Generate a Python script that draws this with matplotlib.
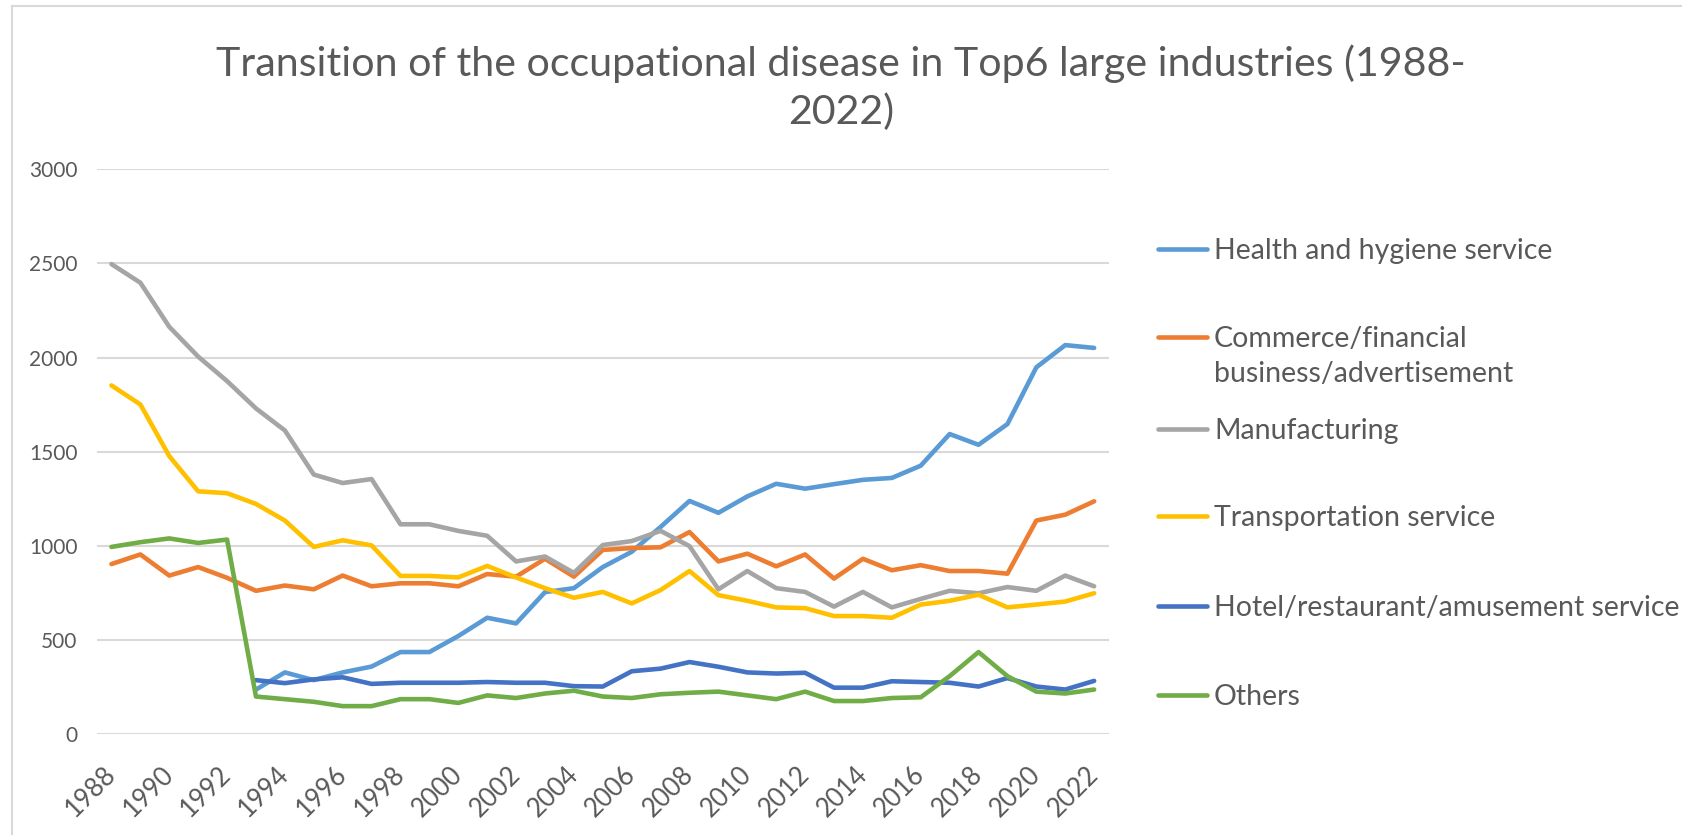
import matplotlib
matplotlib.use("Agg")
import matplotlib.pyplot as plt
import matplotlib.transforms as mtransforms
from matplotlib.lines import Line2D

plt.rcParams['font.family'] = ['Lato', 'DejaVu Sans']

# data
years = list(range(1988, 2023))

health = [None, None, None, None, None,
          238, 329, 288, 329, 360, 437, 437, 522, 619, 589, 755, 776,
          888, 969, 1101, 1239, 1176, 1263, 1330, 1304, 1328, 1351, 1361,
          1426, 1594, 1537, 1647, 1948, 2066, 2051]
commerce = [904, 955, 843, 888, 831, 762, 790, 770, 843, 786, 802, 802,
            786, 851, 837, 932, 837, 979, 989, 993, 1074, 918, 959, 892,
            955, 827, 932, 871, 898, 867, 867, 853, 1135, 1166, 1237]
manufacturing = [2496, 2397, 2163, 2005, 1875, 1730, 1613, 1379, 1334, 1355,
                 1115, 1115, 1080, 1054, 918, 944, 857, 1005, 1026, 1080,
                 999, 770, 867, 776, 756, 678, 756, 674, 719, 762, 749, 782,
                 762, 843, 786]
transport = [1852, 1751, 1477, 1290, 1280, 1223, 1135, 995, 1030, 1003,
             841, 841, 833, 894, 833, 776, 725, 756, 695, 766, 867, 739,
             709, 674, 670, 628, 628, 619, 689, 709, 741, 674, 689, 705, 749]
hotel = [None, None, None, None, None,
         288, 272, 292, 303, 268, 274, 274, 274, 278, 274, 274, 256,
         254, 335, 349, 384, 359, 329, 323, 327, 248, 248, 282, 278, 274,
         254, 299, 254, 238, 284]
others = [995, 1020, 1040, 1016, 1034, 201, 187, 173, 150, 150, 187, 187,
          167, 207, 193, 217, 232, 201, 193, 213, 221, 227, 207, 187, 227,
          177, 177, 193, 197, 309, 437, 309, 227, 217, 238]

series = [health, commerce, manufacturing, transport, hotel, others]
labels = ["Health and hygiene service",
          "Commerce/financial\nbusiness/advertisement",
          "Manufacturing",
          "Transportation service",
          "Hotel/restaurant/amusement service",
          "Others"]
colors = ['#5B9BD5', '#ED7D31', '#A5A5A5', '#FFC000', '#4472C4', '#70AD47']

W, H = 1682, 835
fig = plt.figure(figsize=(W / 100, H / 100), dpi=100)
ax = fig.add_axes([97 / W, 1 - 734.4 / H, (1108.6 - 97) / W, (734.4 - 169.1) / H])

x = list(range(len(years)))
for vals, col, lab in zip(series, colors, labels):
    yv = [float('nan') if v is None else v for v in vals]
    ax.plot(x, yv, color=col, lw=3.3, solid_capstyle='round',
            solid_joinstyle='round', label=lab)

ax.set_xlim(-0.5, len(years) - 0.5)
ax.set_ylim(0, 3000)
ax.set_yticks(range(0, 3001, 500))
ax.yaxis.grid(True, color='#D9D9D9', lw=1.5)
ax.set_axisbelow(True)
for s in ax.spines.values():
    s.set_visible(False)
ax.tick_params(axis='both', length=0, colors='#595959')
ax.tick_params(axis='y', labelsize=15, pad=14)

# year labels: end of baseline anchored just right of / below each tick
ax.set_xticks(x[::2])
ax.set_xticklabels([str(y) for y in years[::2]], rotation=45, ha='right',
                   va='baseline', rotation_mode='anchor', fontsize=18.5)
ax.tick_params(axis='x', pad=0)
offset = mtransforms.ScaledTranslation(5.5 / 100, -41.5 / 100, fig.dpi_scale_trans)
for t in ax.get_xticklabels():
    t.set_transform(t.get_transform() + offset)

# title
fig.text(0.5, 1 - 44 / H,
         "Transition of the occupational disease in Top6 large industries (1988-\n2022)",
         ha='center', va='top', fontsize=29.6, color='#595959', linespacing=1.35)

# legend drawn at Excel's positions
leg_y = [249, 337, 429, 516, 606, 695]
for lab, col, yy in zip(labels, colors, leg_y):
    fy = 1 - yy / H
    fig.add_artist(Line2D([1158 / W, 1207 / W], [fy, fy], color=col, lw=3.3,
                          solid_capstyle='round'))
    fig.text(1214 / W, 1 - (yy - 11) / H, lab, ha='left', va='top',
             fontsize=20.5, color='#595959', linespacing=1.42)

# chart frame (top and left edges visible)
fig.add_artist(Line2D([12 / W, 12 / W], [0, 1 - 6 / H], color='#D9D9D9', lw=1.5))
fig.add_artist(Line2D([12 / W, 1], [1 - 6 / H, 1 - 6 / H], color='#D9D9D9', lw=1.5))

fig.savefig("out.png", dpi=100, facecolor='white')
